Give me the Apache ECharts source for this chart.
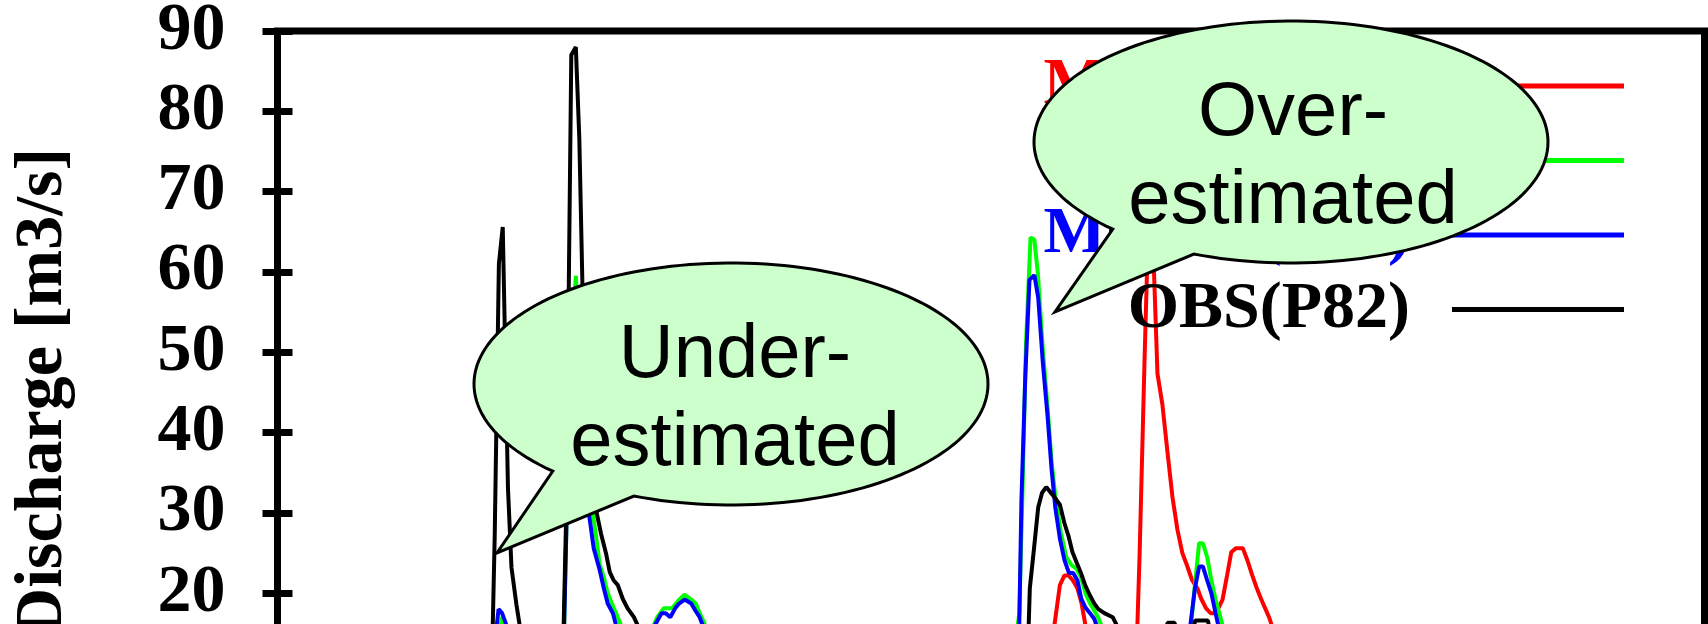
<!DOCTYPE html>
<html>
<head>
<meta charset="utf-8">
<script src="https://cdn.jsdelivr.net/npm/echarts@6/dist/echarts.min.js"></script>
<style>
  html, body { margin: 0; padding: 0; background: #fff; overflow: hidden; }
  #frame { width: 1708px; height: 624px; overflow: hidden; position: relative; }
  #chart { position: absolute; left: 0; top: 0; width: 1708px; height: 800px; }
</style>
</head>
<body>
<div id="frame"><div id="chart"></div></div>
<script>
// Discharge hydrographs at gauge P82: three model runs against observation.
// x = hours from start of record, y = discharge [m3/s]

const seriesNames  = ['MOD-1(P82)', 'MOD-2(P82)', 'MOD-3(P82)', 'OBS(P82)'];
const seriesColors = ['#ff0000', '#00ff00', '#0000ff', '#000000'];

const yMin = 0, yMax = 90, yStep = 10;
const xMin = 0, xMax = 408, xStep = 72;

const mod1 = [
  [0, 4], [20, 4], [40, 5], [58, 5], [62, 8], [66, 11], [72, 10], [80, 9], [84, 12], [88, 13],
  [92, 11], [100, 9], [110, 8], [125, 6], [150, 5], [180, 5], [205, 6], [215, 8], [219, 11],
  [221.5, 14], [222.6, 17.5], [223.7, 21], [225, 22.2], [226.1, 22.2], [227.4, 21.6], [228.7, 20.6],
  [229.9, 18.7], [231, 16], [232.5, 14], [236, 12], [242, 10], [245.5, 11], [246.5, 25], [247.9, 49],
  [249.3, 71], [250.6, 60], [251.6, 47.3], [253, 43.5], [254.4, 37.8], [255.9, 31.9], [257.3, 27.9],
  [258.7, 25], [260, 23.5], [261.5, 21.6], [263, 20.6], [264.1, 19.3], [265.5, 18.1], [266.8, 17.5],
  [268, 17.5], [269, 18.1], [270.2, 19.2], [271.5, 22.2], [272.7, 25.1], [274, 25.6], [276, 25.6],
  [277.3, 24.1], [278.7, 22.2], [280, 20.6], [281.2, 19.3], [282.4, 18.1], [283.5, 17], [285, 15],
  [288, 13], [295, 11], [310, 9], [340, 7], [380, 6], [408, 5]
];

const mod2 = [
  [0, 4], [20, 4], [40, 5], [55, 6], [60, 9], [62, 12], [63, 14], [64.2, 17], [65.3, 16], [66.5, 13],
  [70, 11], [76, 10], [80, 11], [81.8, 13], [82.7, 30], [84, 50], [85.3, 59.5], [86.5, 48], [87.5, 40],
  [88.5, 34], [90.1, 30], [91, 27.4], [92.1, 23.6], [93.3, 22], [94.4, 20], [95.6, 18.7], [96.8, 17.5],
  [98.2, 16], [99.5, 14.5], [102, 13.5], [104.5, 14], [106.5, 15], [108.6, 17], [110.4, 18.1],
  [112.8, 18.1], [114.7, 19.1], [116.4, 19.8], [118.3, 19.2], [119.6, 18.7], [120.7, 17.5], [122, 16.3],
  [123.5, 14.5], [126, 13], [130, 11], [140, 9], [160, 7], [190, 6], [205, 7], [210, 10], [211.3, 15],
  [212.1, 17.5], [213, 32.5], [214, 51], [215.3, 64.3], [216.4, 64], [217.4, 59.8], [218.8, 50.5],
  [220.2, 43], [221.3, 36.5], [222.4, 32], [224, 27.5], [225.5, 24.5], [227, 23.5], [228.5, 23],
  [229.7, 22], [231, 20], [232.2, 18.8], [233.3, 18], [234.6, 17], [236, 15.5], [238, 14], [245, 12],
  [252, 12], [258, 13], [260.5, 15], [261.3, 16.5], [262.3, 21], [263.5, 26.2], [264.6, 26.2],
  [265.8, 24.5], [267, 21.6], [268.2, 19.2], [269.3, 17.5], [270.5, 15.5], [272, 13], [280, 11],
  [300, 9], [340, 7], [408, 5]
];

const mod3 = [
  [0, 4], [20, 4], [40, 5], [55, 6], [60, 9], [62.2, 14], [63.2, 18], [64.2, 17.5], [65.3, 16.2],
  [66.5, 13], [70, 11], [76, 10], [80, 11], [81.8, 13], [82.7, 30], [84, 48], [85.3, 56], [86.5, 46],
  [87.5, 38], [88.7, 31], [90.4, 25.6], [92.1, 22.9], [93.3, 20.6], [94.4, 18.7], [95.9, 17.5],
  [96.8, 16], [98, 14.5], [101, 13], [104, 13.5], [106.5, 15], [107.9, 16], [109.8, 17.5], [111, 17.5],
  [112.3, 17], [113.7, 18.1], [114.8, 18.7], [116.4, 19.2], [118.3, 18.7], [119.5, 17.8], [120.7, 17],
  [122, 15.5], [125, 13], [130, 11], [140, 9], [160, 7], [190, 6], [205, 7], [210, 10], [212, 14],
  [212.7, 31.5], [213.8, 46.9], [215, 59], [216.4, 59.6], [217.5, 56.8], [218.8, 48.8], [220.2, 41.9],
  [221.3, 35.5], [222.4, 30.6], [223.7, 26.8], [225, 24.1], [226.3, 22.5], [227.5, 22.5], [228.7, 21.6],
  [229.8, 19.3], [231, 18.2], [232.3, 17.5], [233.5, 16.8], [235, 15], [237, 13.5], [245, 12],
  [252, 12], [258, 13], [260, 14], [261, 16], [262.3, 20.6], [263.5, 23.3], [264.6, 23.3],
  [265.8, 21.6], [267, 20], [268.2, 17.5], [269.5, 15], [271, 13], [280, 11], [300, 9], [340, 7],
  [408, 5]
];

const obs = [
  [0, 3], [20, 3], [40, 3], [55, 3], [60, 3.5], [61, 5], [62.1, 27], [63.3, 61], [64.4, 65.6],
  [65.9, 33], [66.9, 23.2], [68.3, 18.6], [69.6, 15], [71, 12], [74, 9], [78, 7], [81.3, 6],
  [82.6, 31], [84, 87], [85.3, 88], [86.3, 76.5], [87.3, 56], [88.3, 45], [89.3, 38], [90.3, 32.5],
  [91.2, 30.1], [92.5, 27.4], [93.9, 25], [95, 22.6], [96.1, 21.6], [97.3, 21], [98.7, 19.3],
  [100.1, 18.1], [101.9, 17], [104, 15], [107, 13], [112, 11], [125, 9], [150, 7], [180, 6],
  [200, 6], [210, 7], [213, 8], [214.5, 12], [215.1, 20.6], [216.4, 26], [217.5, 30.7], [218.6, 32.5],
  [219.8, 33.2], [221.1, 32.5], [222.4, 31.8], [223.7, 31], [225, 28.7], [226.1, 27.2], [227.3, 25.1],
  [228.4, 23.9], [229.7, 22.5], [231, 20.9], [232.3, 19.7], [233.5, 18.7], [234.7, 18], [236.4, 17.5],
  [238.8, 17], [240.5, 15.5], [243, 13], [250, 11], [253, 14], [254.5, 16.3], [256.5, 16.3], [258, 13],
  [261, 14], [262.4, 16.6], [266, 16.6], [267, 14.5], [270, 12], [285, 10], [320, 8], [408, 6]
];

const seriesData = [mod1, mod2, mod3, obs];

// Speech-bubble callouts (screen layout, in px)
const callouts = [
  { text: 'Under-\nestimated', cx: 731,  cy: 384, tip: [497, 553],  tx: 735,  ty: 400 },
  { text: 'Over-\nestimated',  cx: 1291, cy: 142, tip: [1055, 312], tx: 1293, ty: 158 }
];
const bubbleRx = 257, bubbleRy = 121;
const tailStartDeg = 133.9, tailEndDeg = 472.2;

function bubbleOutline(c) {
  const pts = [];
  const n = 160;
  for (let i = 0; i <= n; i++) {
    const a = (tailStartDeg + (tailEndDeg - tailStartDeg) * i / n) * Math.PI / 180;
    pts.push([c.cx + bubbleRx * Math.cos(a), c.cy + bubbleRy * Math.sin(a)]);
  }
  pts.push(c.tip);
  return pts;
}

const serifFont = '"Liberation Serif", "Times New Roman", serif';

const chart = echarts.init(document.getElementById('chart'), null, { renderer: 'canvas' });

const tickStyle = { show: true, inside: true, length: 15, lineStyle: { color: '#000', width: 7 } };

const bubbleElements = [];
callouts.forEach(c => {
  bubbleElements.push({
    type: 'polygon',
    z: 100, z2: 1,
    shape: { points: bubbleOutline(c) },
    style: { fill: '#ccffcc', stroke: '#000', lineWidth: 3 }
  });
  bubbleElements.push({
    type: 'text',
    z: 101, z2: 2,
    x: c.tx, y: c.ty,
    style: {
      text: c.text,
      fontFamily: '"Liberation Sans", Arial, sans-serif',
      fontSize: 76,
      lineHeight: 88,
      fill: '#000',
      align: 'center',
      verticalAlign: 'middle'
    }
  });
});

chart.setOption({
  animation: false,
  backgroundColor: '#fff',
  grid: {
    left: 277.5, right: 3.5, top: 31, bottom: 46.3,
    show: true, borderColor: '#000', borderWidth: 7,
    containLabel: false, outerBoundsMode: 'none'
  },
  legend: {
    orient: 'vertical',
    right: 84, top: 53,
    padding: 0,
    align: 'right',
    icon: 'rect',
    itemWidth: 172, itemHeight: 5,
    itemGap: 8.5,
    selectedMode: false,
    itemStyle: { borderWidth: 0 },
    textStyle: { fontFamily: serifFont, fontWeight: 'bold', fontSize: 66, padding: [0, 37, 0, 0] },
    data: seriesNames.map((n, i) => ({ name: n, textStyle: { color: seriesColors[i] } }))
  },
  xAxis: [
    {
      type: 'value', position: 'bottom', min: xMin, max: xMax, interval: xStep,
      axisLine: { show: false }, axisTick: tickStyle, axisLabel: { show: false },
      splitLine: { show: false }
    },
    {
      type: 'value', position: 'top', min: xMin, max: xMax, interval: xStep,
      axisLine: { show: false }, axisTick: tickStyle, axisLabel: { show: false },
      splitLine: { show: false }
    }
  ],
  yAxis: [
    {
      type: 'value', position: 'left', min: yMin, max: yMax, interval: yStep,
      name: 'Discharge [m3/s]', nameLocation: 'middle', nameGap: 200, nameRotate: 90,
      nameTextStyle: { fontFamily: serifFont, fontWeight: 'bold', fontSize: 68, color: '#000' },
      axisLine: { show: false }, axisTick: tickStyle,
      axisLabel: { fontFamily: serifFont, fontWeight: 'bold', fontSize: 68, color: '#000', margin: 52 },
      splitLine: { show: false }
    },
    {
      type: 'value', position: 'right', min: yMin, max: yMax, interval: yStep,
      axisLine: { show: false }, axisTick: tickStyle, axisLabel: { show: false },
      splitLine: { show: false }
    }
  ],
  series: seriesData.map((d, i) => ({
    name: seriesNames[i],
    type: 'line',
    xAxisIndex: 0, yAxisIndex: 0,
    data: d,
    showSymbol: false,
    symbol: 'none',
    clip: true,
    color: seriesColors[i],
    itemStyle: { color: seriesColors[i] },
    lineStyle: { color: seriesColors[i], width: 4, join: 'bevel' }
  })),
  graphic: { elements: bubbleElements }
});
</script>
</body>
</html>
